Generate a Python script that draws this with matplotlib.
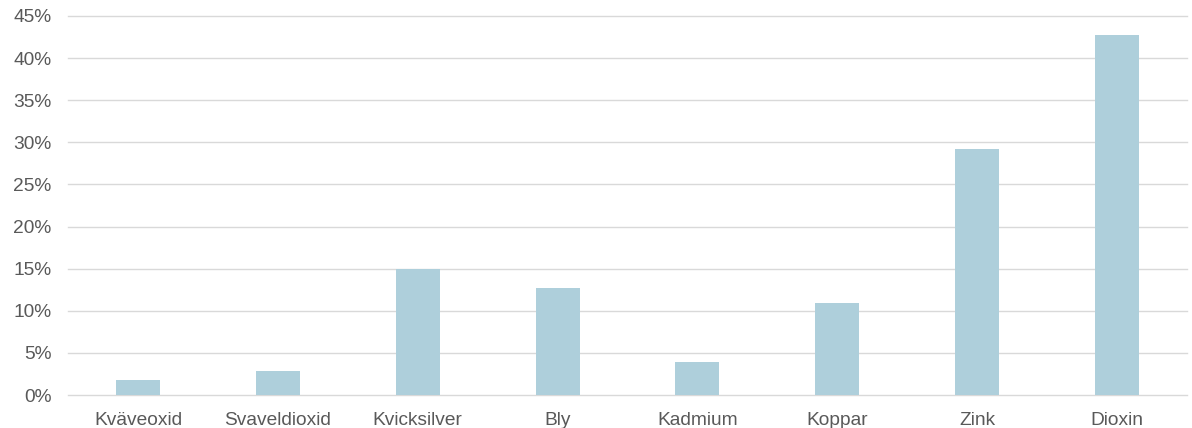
import matplotlib
matplotlib.use("Agg")
import matplotlib.pyplot as plt
from matplotlib.ticker import PercentFormatter, MultipleLocator

categories = ["Kväveoxid", "Svaveldioxid", "Kvicksilver", "Bly",
              "Kadmium", "Koppar", "Zink", "Dioxin"]
values = [1.8, 2.8, 15.0, 12.7, 3.9, 10.9, 29.2, 42.8]

plt.rcParams['font.family'] = ['Liberation Sans', 'DejaVu Sans']

fig = plt.figure(figsize=(11.92, 4.28), dpi=100)
ax = fig.add_axes([68 / 1192, 1 - 395 / 428, (1187 - 68) / 1192, (395 - 16) / 428])

x = range(len(categories))
ax.bar(x, values, width=0.315, color="#aecfdb", zorder=3)

ax.set_xlim(-0.5, len(categories) - 0.5)
ax.set_ylim(0, 45)
ax.yaxis.set_major_locator(MultipleLocator(5))
ax.yaxis.set_major_formatter(PercentFormatter(decimals=0))
ax.set_xticks(list(x))
ax.set_xticklabels(categories)

ax.grid(axis="y", color="#d9d9d9", linewidth=1.0, zorder=0)
for gl in ax.get_ygridlines():
    gl.set_clip_on(False)
for s in ax.spines.values():
    s.set_visible(False)
ax.tick_params(axis="both", length=0, labelsize=13.8, colors="#595959")
ax.tick_params(axis="y", pad=12)
ax.tick_params(axis="x", pad=12)

fig.savefig("out.png", dpi=100)
